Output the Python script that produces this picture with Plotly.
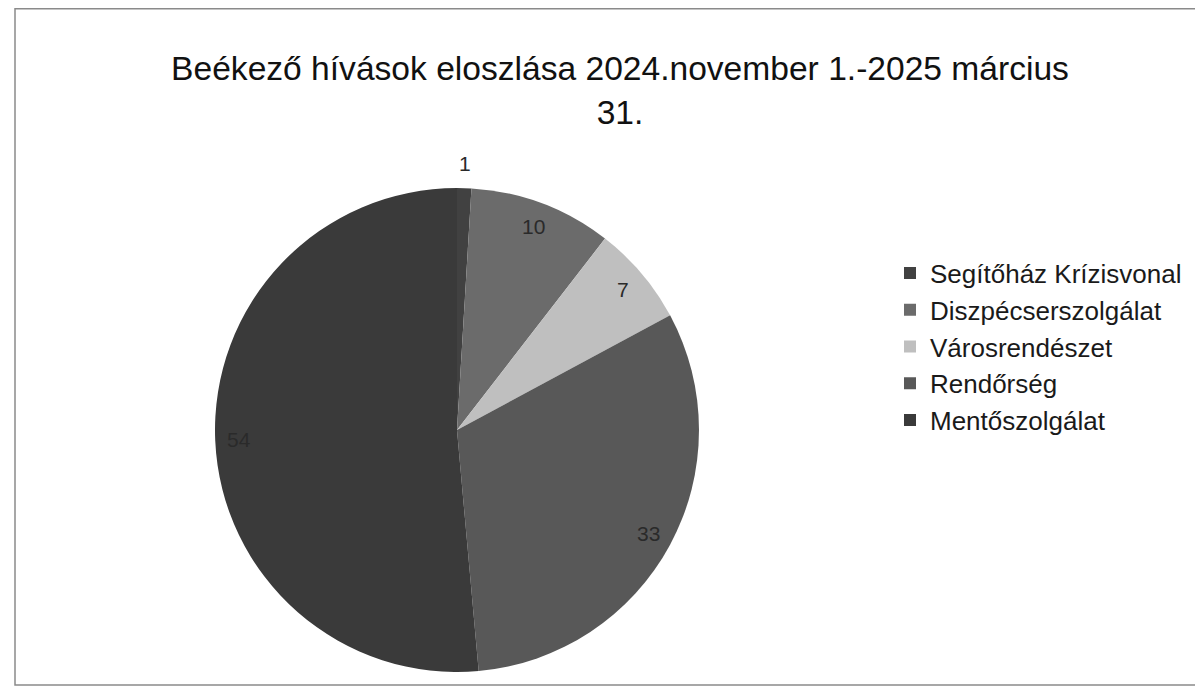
import math
import plotly.graph_objects as go

categories = ["Segítőház Krízisvonal", "Diszpécserszolgálat", "Városrendészet", "Rendőrség", "Mentőszolgálat"]
values = [1, 10, 7, 33, 54]
colors = ["#414141", "#6b6b6b", "#bfbfbf", "#585858", "#3a3a3a"]
title_text = "Beékező hívások eloszlása 2024.november 1.-2025 március<br>31."

W, H = 1203, 688
OFF = 8  # page body margin
cx_px, cy_px, R_px = 457 - OFF, 430 - OFF, 242

fig = go.Figure()
fig.add_trace(go.Pie(
    labels=categories,
    values=values,
    marker=dict(colors=colors, line=dict(width=0)),
    sort=False,
    direction="clockwise",
    rotation=0,
    textinfo="none",
    hoverinfo="label+value",
    domain=dict(x=[(cx_px - R_px) / W, (cx_px + R_px) / W],
                y=[1 - (cy_px + R_px) / H, 1 - (cy_px - R_px) / H]),
))

# value labels placed along each slice's bisector
total = sum(values)
cum = 0
annotations = []
for i, v in enumerate(values):
    mid = (cum + v / 2) / total * 2 * math.pi
    cum += v
    rf = 1.1 if v / total < 0.03 else 0.9
    x_px = cx_px + rf * R_px * math.sin(mid)
    y_px = cy_px - rf * R_px * math.cos(mid)
    annotations.append(dict(
        x=x_px / W, y=1 - y_px / H, xref="paper", yref="paper",
        text=str(v), showarrow=False,
        font=dict(family="Liberation Sans, Arial, sans-serif", size=21, color="#2a2a2a"),
        xanchor="center", yanchor="middle",
    ))

fig.update_layout(
    width=W, height=H,
    margin=dict(l=0, r=0, t=0, b=0),
    paper_bgcolor="white",
    plot_bgcolor="white",
    title=dict(
        text=title_text,
        x=(620 - OFF) / W, xanchor="center",
        y=1 - (80 - OFF) / H, yanchor="top",
        font=dict(family="Liberation Sans, Arial, sans-serif", size=33.6, color="#111111"),
    ),
    legend=dict(
        x=(890 - OFF) / W, xanchor="left",
        y=1 - (347 - OFF) / H, yanchor="middle",
        font=dict(family="Liberation Sans, Arial, sans-serif", size=26, color="#1a1a1a"),
        bgcolor="rgba(0,0,0,0)",
    ),
    annotations=annotations,
    shapes=[dict(
        type="rect", xref="paper", yref="paper",
        x0=(15 - OFF) / W, x1=1.01, y0=1 - (685 - OFF) / H, y1=1 - 0.8 / H,
        line=dict(color="#8a8a8a", width=1.5),
    )],
)

fig.write_html("out.html")
